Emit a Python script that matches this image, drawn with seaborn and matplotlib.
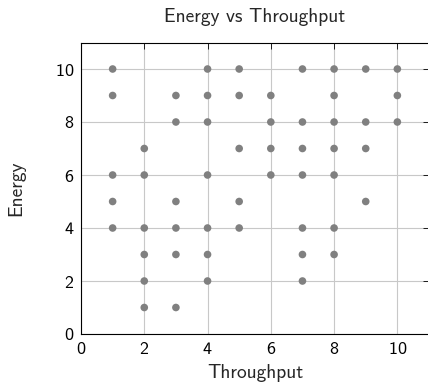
import matplotlib
matplotlib.use("Agg")
from matplotlib import pyplot as plt
import seaborn as sns
import pandas as pd

# points, grouped by throughput value
throughput = [1] * 5 + [2] * 6 + [3] * 6 + [4] * 7 + [5] * 5 + [6] * 4 + [7] * 7 + [8] * 7 + [9] * 4 + [10] * 3
energy = [10, 9, 6, 5, 4,
          7, 6, 4, 3, 2, 1,
          9, 8, 5, 4, 3, 1,
          10, 9, 8, 6, 4, 3, 2,
          10, 9, 7, 5, 4,
          9, 8, 7, 6,
          10, 8, 7, 6, 4, 3, 2,
          10, 9, 8, 7, 6, 4, 3,
          10, 8, 7, 5,
          10, 9, 8]
ticks = [0, 2, 4, 6, 8, 10]

df = pd.DataFrame({"Throughput": throughput, "Energy": energy})

sns.set_style("white")
plt.rcParams["font.family"] = ["cmss10", "DejaVu Sans"]
plt.rcParams["axes.unicode_minus"] = False
plt.rcParams["axes.formatter.use_mathtext"] = True

fig = plt.figure(figsize=(4.28, 3.84), dpi=100)
ax = fig.add_axes([81 / 428, 1 - 334 / 384, 348 / 428, (334 - 42.5) / 384])

sns.scatterplot(data=df, x="Throughput", y="Energy", color="#808080",
                s=30, edgecolor="none", ax=ax, zorder=3)

ax.set_xlim(0, 11)
ax.set_ylim(0, 11)
ax.set_xticks(ticks)
ax.set_yticks(ticks)
ax.grid(True, color="#c8c8c8", linewidth=0.8)
ax.set_axisbelow(True)
ax.tick_params(direction="in", length=4, width=0.6, top=True, right=True,
               labelsize=13, colors="black", pad=5)
for s in ax.spines.values():
    s.set_color("black")
    s.set_linewidth(0.8)

ax.set_xlabel("Throughput", fontsize=14, labelpad=5)
ax.set_ylabel("Energy", fontsize=14, labelpad=21)
ax.set_title("Energy vs Throughput", fontsize=14, pad=15)

fig.savefig("out.png", dpi=100)
